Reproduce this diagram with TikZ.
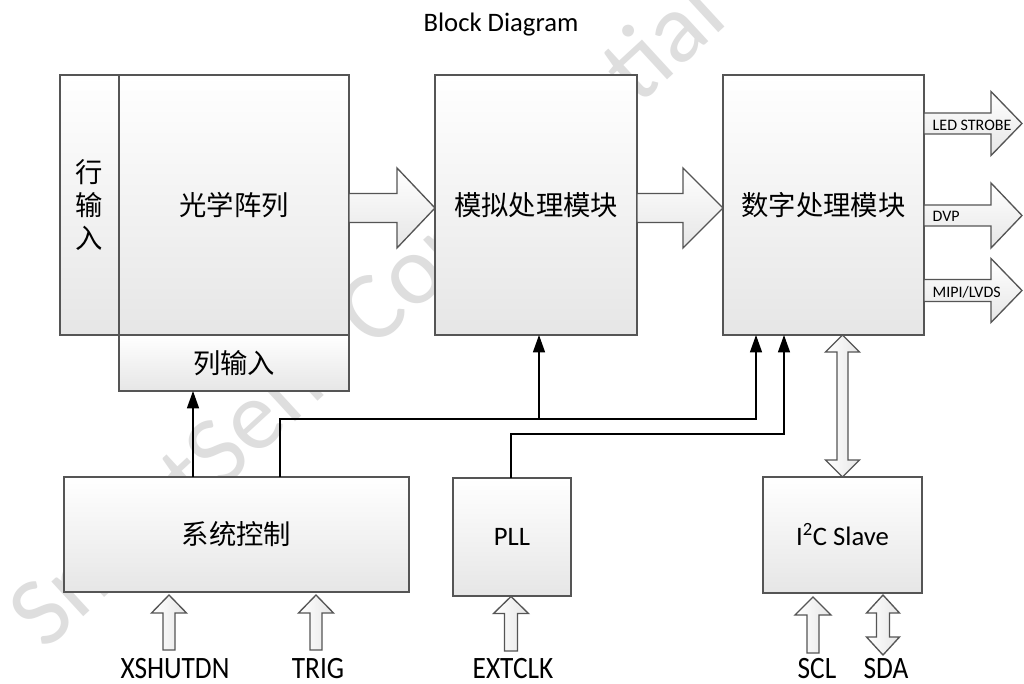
\documentclass[tikz,border=0pt]{standalone}
\usepackage{fontspec}
\setmainfont{Carlito}
\newfontfamily\cjk{Noto Sans CJK SC}
\newfontfamily\pinfont[FakeStretch=0.88]{Carlito}
\usetikzlibrary{calc,arrows.meta}
\definecolor{edge}{HTML}{555555}
\definecolor{boxbot}{HTML}{E6E6E6}
\definecolor{wmark}{HTML}{DEDEDE}
\newcommand{\hollowright}[5]{%
  \draw[harrow] ($(#1)+(0,#3)$) -- ($(#2)+(-#5,#3)$) -- ($(#2)+(-#5,#4)$) -- (#2)
   -- ($(#2)+(-#5,-#4)$) -- ($(#2)+(-#5,-#3)$) -- ($(#1)+(0,-#3)$) -- cycle;}
\newcommand{\hollowup}[5]{%
  \draw[varrow] ($(#1)+(-#3,0)$) -- ($(#2)+(-#3,#5)$) -- ($(#2)+(-#4,#5)$) -- (#2)
   -- ($(#2)+(#4,#5)$) -- ($(#2)+(#3,#5)$) -- ($(#1)+(#3,0)$) -- cycle;}
\newcommand{\hollowboth}[5]{%
  \draw[varrow] (#2) -- ($(#2)+(#4,#5)$) -- ($(#2)+(#3,#5)$) -- ($(#1)+(#3,-#5)$)
   -- ($(#1)+(#4,-#5)$) -- (#1) -- ($(#1)+(-#4,-#5)$) -- ($(#1)+(-#3,-#5)$)
   -- ($(#2)+(-#3,#5)$) -- ($(#2)+(-#4,#5)$) -- cycle;}
\begin{document}
\begin{tikzpicture}[x=0.75pt,y=-0.75pt,
  blk/.style={draw=edge, line width=1pt, top color=white, bottom color=boxbot, inner sep=0pt, outer sep=0pt},
  harrow/.style={draw=edge, line width=1pt, top color=white, bottom color=boxbot, line join=miter},
  varrow/.style={draw=edge, line width=1pt, left color=white, right color=boxbot, line join=miter},
  sig/.style={draw=black, line width=1pt, -{Triangle[length=13pt,width=9pt]}},
  zh/.style={font=\cjk\fontsize{20.5}{25}\selectfont},
  lab/.style={font=\fontsize{20}{24}\selectfont},
  pin/.style={font=\pinfont\fontsize{23.3}{26}\selectfont, anchor=base},
  small/.style={font=\fontsize{12}{14}\selectfont, anchor=west}]
\useasboundingbox (0,0) rectangle (1024,684);
\fill[white] (0,0) rectangle (1024,684);
% watermark
\node[font=\fontsize{74}{80}\selectfont, text=wmark, rotate=42.6] (wm) at (365,312) {SmartSens Confidential};
% title
\node[lab, anchor=base] (title) at (501,32) {Block Diagram};
% blocks
\node[blk, zh, align=center, minimum width=44.25pt, minimum height=195pt] (row) at (89.5,205) {行\\输\\入};
\node[blk, zh, minimum width=172.5pt, minimum height=195pt] (arr) at (234,205) {光学阵列};
\node[blk, zh, minimum width=172.5pt, minimum height=42pt] (col) at (234,363) {列输入};
\node[blk, zh, minimum width=151.5pt, minimum height=195pt] (ana) at (536,205) {模拟处理模块};
\node[blk, zh, minimum width=150.75pt, minimum height=195pt] (dig) at (823.5,205) {数字处理模块};
\node[blk, zh, minimum width=258.75pt, minimum height=86.25pt] (sys) at (236.5,534.5) {系统控制};
\node[blk, lab, minimum width=88.5pt, minimum height=88.5pt] (pll) at (512,537) {PLL};
\node[blk, lab, minimum width=119.25pt, minimum height=87pt] (i2c) at (842.5,535) {I\textsuperscript{2}C Slave};
% big data arrows
\coordinate (a1s) at ($(arr.east)+(0,3)$);
\coordinate (a1t) at ($(ana.west)+(0,3)$);
\hollowright{a1s}{a1t}{14.5}{40}{38}
\coordinate (a2s) at ($(ana.east)+(0,3)$);
\coordinate (a2t) at ($(dig.west)+(0,3)$);
\hollowright{a2s}{a2t}{14.5}{40}{40}
% outputs
\coordinate (o1t) at (1022,123.5);
\coordinate (o1s) at (dig.east |- o1t);
\hollowright{o1s}{o1t}{10.5}{32}{31}
\coordinate (o2t) at (1022,215.5);
\coordinate (o2s) at (dig.east |- o2t);
\hollowright{o2s}{o2t}{10.5}{32.5}{31}
\coordinate (o3t) at (1022,290.5);
\coordinate (o3s) at (dig.east |- o3t);
\hollowright{o3s}{o3t}{11}{32}{31}
\node[small] (led) at (928,125) {LED STROBE};
\node[small] (dvp) at (928,216) {DVP};
\node[small] (mipi) at (928,292) {MIPI/LVDS};
% control signals
\draw[sig] ($(sys.north west)+(129,0)$) coordinate (s1) -- (s1 |- col.south);
\draw[sig] ($(sys.north west)+(216,0)$) -- ++(0,-58) coordinate (j1) -| ($(dig.south west)+(33,0)$);
\coordinate (b1) at ($(ana.south west)+(104,0)$);
\draw[sig] (j1 -| b1) -- (b1);
\draw[sig] ($(pll.north west)+(58,0)$) -- ++(0,-44) -| ($(dig.south west)+(61,0)$);
% I2C bus
\coordinate (bt) at (dig.south -| i2c.north);
\hollowboth{i2c.north}{bt}{5.5}{17}{17}
% pin labels
\node[pin] (xs) at (175,678) {XSHUTDN};
\node[pin] (tr) at (318,678) {TRIG};
\node[pin] (ex) at (513,678) {EXTCLK};
\node[pin] (scl) at (817,678) {SCL};
\node[pin] (sda) at (886,678) {SDA};
% pin arrows
\coordinate (xb) at ($(xs.base)+(-6,-28)$);
\coordinate (xt) at ($(sys.south -| xb)+(0,3)$);
\hollowup{xb}{xt}{6}{17.5}{18}
\coordinate (tb) at ($(tr.base)+(-2,-28)$);
\coordinate (tt) at ($(sys.south -| tb)+(0,3)$);
\hollowup{tb}{tt}{6}{17.5}{18}
\coordinate (eb) at ($(ex.base)+(-2,-27)$);
\coordinate (et) at ($(pll.south -| eb)+(0,0.5)$);
\hollowup{eb}{et}{6.5}{17.5}{17}
\coordinate (cb) at ($(scl.base)+(-4,-25)$);
\coordinate (ct) at ($(i2c.south -| cb)+(0,4)$);
\hollowup{cb}{ct}{6}{18}{18}
\coordinate (db) at ($(sda.base)+(-3,-23)$);
\coordinate (dt) at ($(i2c.south -| db)+(0,2)$);
\hollowboth{db}{dt}{6.5}{16.5}{18}
\end{tikzpicture}
\end{document}
